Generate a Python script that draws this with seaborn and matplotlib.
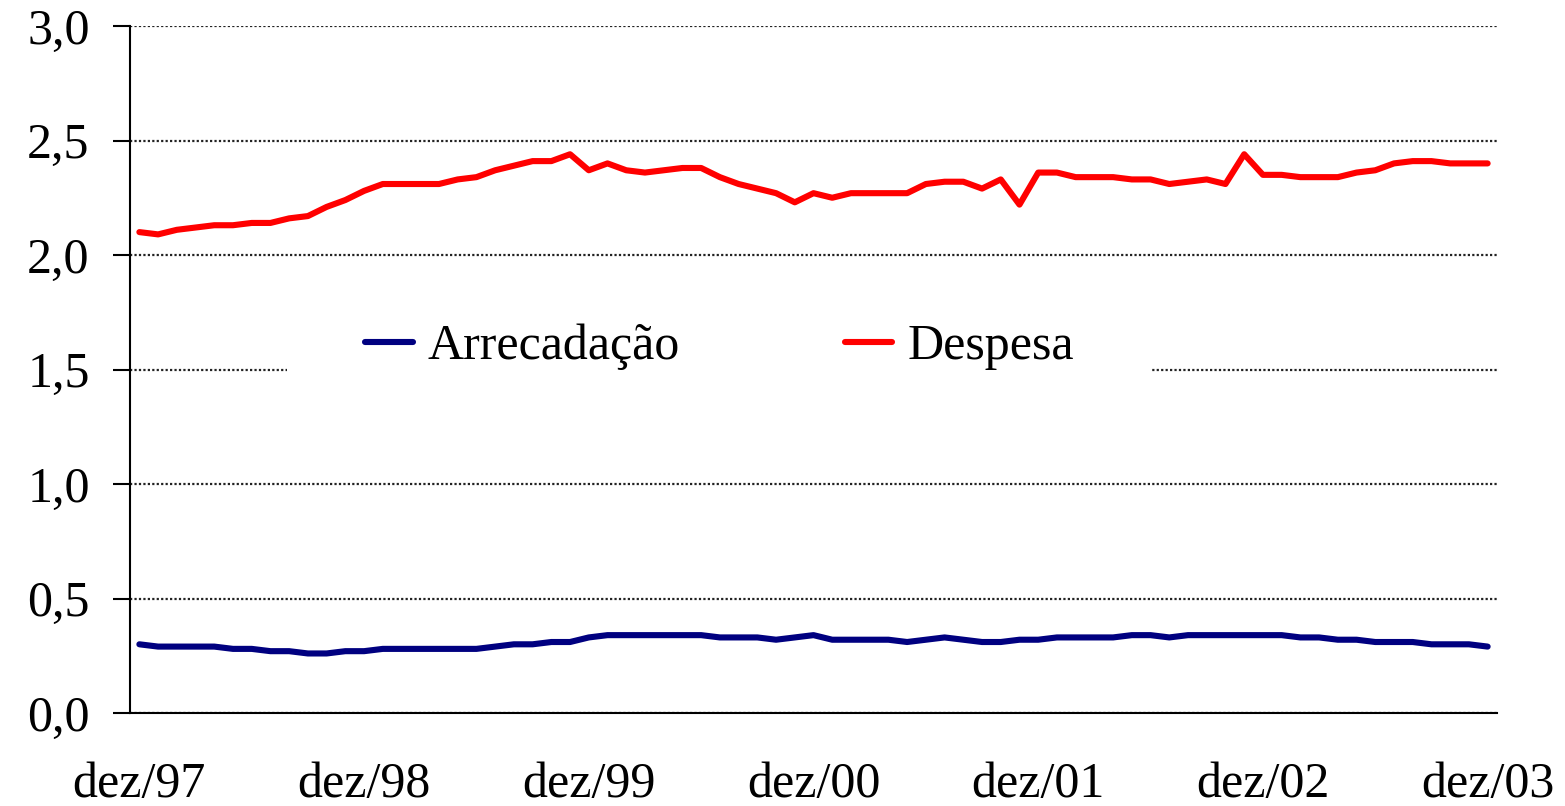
import numpy as np
import pandas as pd
import matplotlib
matplotlib.use("Agg")
import matplotlib.pyplot as plt
import matplotlib.ticker as mticker
from matplotlib.patches import Rectangle
import seaborn as sns

# monthly series, dez/97 .. dez/03 (73 months)
arrecadacao = [0.30, 0.29, 0.29, 0.29, 0.29, 0.28, 0.28, 0.27, 0.27, 0.26,
               0.26, 0.27, 0.27, 0.28, 0.28, 0.28, 0.28, 0.28, 0.28, 0.29,
               0.30, 0.30, 0.31, 0.31, 0.33, 0.34, 0.34, 0.34, 0.34, 0.34,
               0.34, 0.33, 0.33, 0.33, 0.32, 0.33, 0.34, 0.32, 0.32, 0.32,
               0.32, 0.31, 0.32, 0.33, 0.32, 0.31, 0.31, 0.32, 0.32, 0.33,
               0.33, 0.33, 0.33, 0.34, 0.34, 0.33, 0.34, 0.34, 0.34, 0.34,
               0.34, 0.34, 0.33, 0.33, 0.32, 0.32, 0.31, 0.31, 0.31, 0.30,
               0.30, 0.30, 0.29]
despesa = [2.10, 2.09, 2.11, 2.12, 2.13, 2.13, 2.14, 2.14, 2.16, 2.17,
           2.21, 2.24, 2.28, 2.31, 2.31, 2.31, 2.31, 2.33, 2.34, 2.37,
           2.39, 2.41, 2.41, 2.44, 2.37, 2.40, 2.37, 2.36, 2.37, 2.38,
           2.38, 2.34, 2.31, 2.29, 2.27, 2.23, 2.27, 2.25, 2.27, 2.27,
           2.27, 2.27, 2.31, 2.32, 2.32, 2.29, 2.33, 2.22, 2.36, 2.36,
           2.34, 2.34, 2.34, 2.33, 2.33, 2.31, 2.32, 2.33, 2.31, 2.44,
           2.35, 2.35, 2.34, 2.34, 2.34, 2.36, 2.37, 2.40, 2.41, 2.41,
           2.40, 2.40, 2.40]
meses = ['jan', 'fev', 'mar', 'abr', 'mai', 'jun',
         'jul', 'ago', 'set', 'out', 'nov', 'dez']
anos = ['97', '98', '99', '00', '01', '02', '03']

# category labels: dez/97 followed by every month up to dez/03
rotulos = ['dez/97'] + [f'{m}/{a}' for a in anos[1:] for m in meses]

df = pd.DataFrame({
    'pos': list(range(len(rotulos))) * 2,
    'valor': arrecadacao + despesa,
    'serie': ['Arrecadação'] * len(arrecadacao) + ['Despesa'] * len(despesa),
})

sns.set_style('white')
plt.rcParams['font.family'] = ['Liberation Serif', 'DejaVu Serif']
plt.rcParams['text.color'] = 'black'
plt.rcParams['xtick.color'] = 'black'
plt.rcParams['ytick.color'] = 'black'

FS = 36
LW = 4.4

fig = plt.figure(figsize=(15.65, 8.06), dpi=100)
ax = fig.add_axes([130 / 1565, 1 - 713 / 806, 1367 / 1565, 687 / 806])

sns.lineplot(data=df, x='pos', y='valor', hue='serie', ax=ax,
             palette={'Arrecadação': '#000080', 'Despesa': '#FF0000'},
             linewidth=LW, zorder=3)

ax.set_xlim(-0.5, len(rotulos) - 0.5)
ax.set_ylim(0, 3.0)
ax.set_xlabel('')
ax.set_ylabel('')

# y axis
ax.yaxis.set_major_locator(mticker.MultipleLocator(0.5))
ax.yaxis.set_major_formatter(mticker.FuncFormatter(lambda v, _: f'{v:.1f}'.replace('.', ',')))
ax.grid(True, axis='y', color='#222222', linestyle=(0, (1, 1)), linewidth=1.6, zorder=1)

# x axis: ticks between categories, labels every 12 months
idx = [i for i, r in enumerate(rotulos) if r.startswith('dez')]
ax.set_xticks([i - 0.5 for i in idx])
ax.set_xticklabels([])
ax.set_xticks(idx, minor=True)
ax.set_xticklabels([rotulos[i] for i in idx], minor=True)

ax.tick_params(axis='x', which='major', direction='out', length=11, width=1.5)
ax.tick_params(axis='x', which='minor', length=0, pad=35, labelsize=FS)
ax.tick_params(axis='y', direction='out', length=12, width=1.5,
               pad=17, labelsize=FS, left=True)

for s in ['top', 'right']:
    ax.spines[s].set_visible(False)
for s in ['left', 'bottom']:
    ax.spines[s].set_color('black')
    ax.spines[s].set_linewidth(1.5)

# white box behind the legend, hiding the 1,5 gridline
ax.add_patch(Rectangle((157 / 1367, 0.455), (1152 - 287) / 1367, 0.15,
                       transform=ax.transAxes, facecolor='white',
                       edgecolor='none', zorder=2))

leg = ax.legend(loc='center left', bbox_to_anchor=(235 / 1367, 0.533), ncol=2,
                fontsize=FS, frameon=False, borderpad=0, borderaxespad=0,
                handlelength=0.95, handletextpad=0.3, columnspacing=3.3)
for h in leg.get_lines():
    h.set_linewidth(LW)

fig.savefig('out.png', dpi=100)
